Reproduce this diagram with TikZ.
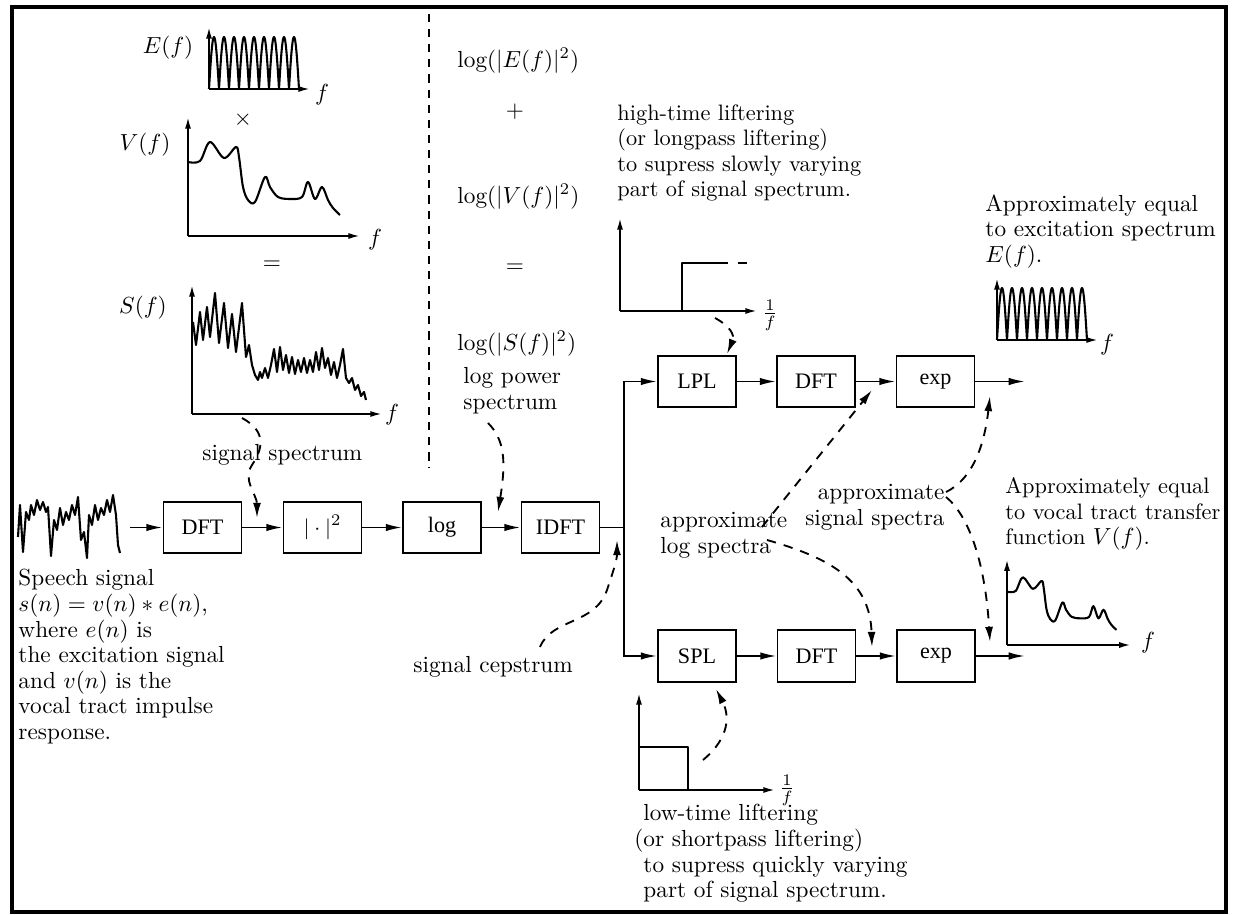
\documentclass[tikz,border=0pt]{standalone}
\usepackage{fontspec}
\newfontfamily\blockfont{Liberation Serif}
\usetikzlibrary{arrows.meta}

\begin{document}
% all coordinates are canvas pixels, y pointing down
\begin{tikzpicture}[x=0.43pt, y=-0.43pt,
  font=\fontsize{10}{11}\selectfont,
  every node/.style={inner sep=0pt},
  flow/.style={line width=0.8pt, -{Latex[length=7pt,width=3.2pt]}},
  wire/.style={line width=0.8pt},
  block/.style={draw, line width=0.8pt, minimum width=33.5pt, minimum height=22pt,
                font=\blockfont\fontsize{9.5}{11}\selectfont},
  hint/.style={line width=0.8pt, dash pattern=on 4pt off 3.5pt,
               -{Latex[length=6.5pt,width=3.4pt]}},
  axis/.style={line width=0.8pt, -{Latex[length=5pt,width=2.6pt]}},
  trace/.style={line width=0.9pt, line join=round},
  note/.style={align=left, anchor=north west},
  ecomb/.pic={
    \draw[trace] plot[domain=0:90, samples=181] (\x, {-52*abs(sin(18*\x))});
    \draw[axis] (0,0) -- (0,-62);
    \draw[axis] (0,0) -- (101,0);
  },
  vtract/.pic={
    \draw[trace] plot[smooth, tension=0.55] coordinates {
      (0,-74) (12,-75) (22,-94) (36,-78) (48,-89) (51,-79) (55,-49) (60,-36)
      (67,-34) (77,-59) (82,-49) (90,-39) (102,-37) (114,-39) (120,-54)
      (127,-37) (134,-49) (140,-36) (145,-28) (152,-21)};
    \draw[axis] (0,0) -- (0,-119);
    \draw[axis] (0,0) -- (172,0);
  }
]
\useasboundingbox (0,0) rectangle (1242,915);
\draw[line width=2pt] (12,7) rectangle (1226,912);

% divider between spectra and log spectra
\draw[line width=0.8pt, dash pattern=on 3.5pt off 3pt] (429,14) -- (429,468);

% ---------- spectra on the left ----------
\pic at (209,89) {ecomb};
\node (Elab) at (168,48) {$E(f)$};
\node (Ef) at (322,95) {$f$};
\node (times) at (243,120) {$\times$};

\pic at (188,236) {vtract};
\node (Vlab) at (145,145) {$V(f)$};
\node (Vf) at (375,240) {$f$};
\node (eq1) at (272,265) {$=$};

\draw[axis] (192,414) -- (192,285);
\draw[axis] (192,414) -- (382,414);
\draw[trace] (193,322) -- (196,345) -- (200,312) -- (203,340) -- (207,307) -- (210,337)
  -- (215,293) -- (219,343) -- (224,303) -- (228,348) -- (232,314) -- (236,352)
  -- (242,303) -- (246,357) -- (249,345) -- (252,365) -- (255,375) -- (258,380)
  -- (260,372) -- (262,378) -- (265,368) -- (268,378) -- (271,365) -- (274,349)
  -- (277,372) -- (280,347) -- (283,370) -- (286,355) -- (289,373) -- (292,357)
  -- (295,374) -- (298,360) -- (301,372) -- (304,358) -- (307,373) -- (310,360)
  -- (313,372) -- (316,352) -- (319,370) -- (322,348) -- (325,368) -- (328,358)
  -- (331,375) -- (334,362) -- (337,378) -- (340,365) -- (343,349) -- (346,378)
  -- (349,383) -- (352,378) -- (355,390) -- (358,385) -- (361,396) -- (364,392)
  -- (366,400);
\node (Slab) at (143,308) {$S(f)$};
\node (Sf) at (392,415) {$f$};
\node[anchor=mid west] (sigspec) at (202,455) {signal spectrum};

% ---------- log spectra in the middle ----------
\node[anchor=mid west] (logE) at (457,62) {$\log(|E(f)|^2)$};
\node (plus) at (515,112) {$+$};
\node[anchor=mid west] (logV) at (457,198) {$\log(|V(f)|^2)$};
\node (eq2) at (515,268) {$=$};
\node[anchor=mid west] (logS) at (457,345) {$\log(|S(f)|^2)$};
\node[note] (logpow) at (463,367) {log power\\spectrum};

% ---------- speech waveform and description ----------
\draw[trace] (18,537) -- (20,505) -- (23,552) -- (26,512) -- (29,520) -- (31,505)
  -- (34,515) -- (37,500) -- (40,510) -- (43,502) -- (46,512) -- (48,507)
  -- (51,556) -- (54,520) -- (57,530) -- (60,508) -- (63,525) -- (66,512)
  -- (69,520) -- (72,505) -- (75,515) -- (78,497) -- (81,540) -- (84,532)
  -- (87,558) -- (89,515) -- (92,525) -- (95,505) -- (98,520) -- (101,508)
  -- (104,515) -- (107,500) -- (110,512) -- (113,495) -- (116,515) -- (118,545)
  -- (120,553);
\node[note] (speech) at (18,569) {Speech signal\\$s(n)=v(n)*e(n)$,\\where $e(n)$ is\\the excitation signal\\and $v(n)$ is the\\vocal tract impulse\\response.};

% ---------- processing chain ----------
\node[block] (dft1) at (202.5,527.5) {DFT};
\node[block] (mag)  at (322.5,527.5) {$|\cdot|^2$};
\node[block] (log)  at (442,527.5) {log};
\node[block] (idft) at (560.5,527.5) {IDFT};
\node[block] (lpl)  at (697,381.5) {LPL};
\node[block] (dft2) at (816,381.5) {DFT};
\node[block] (exp1) at (935.5,381.5) {exp};
\node[block] (spl)  at (697,656) {SPL};
\node[block] (dft3) at (816.5,656) {DFT};
\node[block] (exp2) at (936,656) {exp};

\coordinate (src) at (130,527.5);
\coordinate (fork) at (624,527.5);
\coordinate (out1) at (1025,381.5);
\coordinate (out2) at (1025,656);

\draw[flow] (src) -- (dft1);
\draw[flow] (dft1) -- (mag);
\draw[flow] (mag) -- (log);
\draw[flow] (log) -- (idft);
\draw[wire] (idft) -- (fork);
\draw[flow] (fork) |- (lpl);
\draw[flow] (fork) |- (spl);
\draw[flow] (lpl) -- (dft2);
\draw[flow] (dft2) -- (exp1);
\draw[flow] (exp1) -- (out1);
\draw[flow] (spl) -- (dft3);
\draw[flow] (dft3) -- (exp2);
\draw[flow] (exp2) -- (out2);

\node[anchor=mid west] (cep) at (413,667) {signal cepstrum};

% ---------- high-time lifter ----------
\node[note, font=\fontsize{9.6}{11}\selectfont] (hightxt) at (617,104) {high-time liftering\\(or longpass liftering)\\to supress slowly varying\\part of signal spectrum.};
\draw[axis] (620,311) -- (620,218);
\draw[axis] (620,311) -- (757,311);
\draw[trace] (682,311) -- (682,263) -- (728,263);
\draw[trace] (738,263) -- (747,263);
\node (hinv) at (770,315) {$\frac{1}{f}$};

% ---------- low-time lifter ----------
\draw[axis] (639,790) -- (639,693);
\draw[axis] (639,790) -- (775,790);
\draw[trace] (639,747) -- (688,747) -- (688,790);
\node (linv) at (787,790) {$\frac{1}{f}$};
\node[note] (lowtxt) at (643,804) {low-time liftering\\\llap{(}or shortpass liftering)\\to supress quickly varying\\part of signal spectrum.};

% ---------- outputs ----------
\node[note] (Etxt) at (985,194) {Approximately equal\\to excitation spectrum\\$E(f)$.};
\pic at (997,340) {ecomb};
\node (Eof) at (1107,345) {$f$};

\node[note, font=\fontsize{9.6}{11}\selectfont] (Vtxt) at (1005,477) {Approximately equal\\to vocal tract transfer\\function $V(f)$.};
\pic[scale=0.72] at (1007,645) {vtract};
\node (Vof) at (1148,643) {$f$};

% ---------- approximation labels ----------
\node[note] (aplog) at (660,512) {approximate\\log spectra};
\node[align=right, anchor=north east] (apsig) at (945,484) {approximate\\signal spectra};

% ---------- dashed pointers ----------
\coordinate (ssA) at (242,418);  \coordinate (ssB) at (257,518);
\coordinate (lpA) at (488,423);  \coordinate (lpB) at (498,512);
\coordinate (scA) at (540,647);  \coordinate (scB) at (617,540);
\coordinate (hlA) at (715,318);  \coordinate (hlB) at (727,354);
\coordinate (llA) at (703,760);  \coordinate (llB) at (716,689);
\coordinate (alA) at (762,527);  \coordinate (alB) at (872,390);
\coordinate (alC) at (767,540);  \coordinate (alD) at (872,647);
\coordinate (asA) at (946,492);  \coordinate (asB) at (990,396);
\coordinate (asC) at (946,497);  \coordinate (asD) at (990,642);

\draw[hint] (ssA) .. controls (268,432) and (262,450) .. (252,465)
                  .. controls (242,480) and (257,495) .. (ssB);
\draw[hint] (lpA) .. controls (505,440) and (506,462) .. (lpB);
\draw[hint] (scA) .. controls (552,618) and (595,625) .. (607,590)
                  .. controls (613,572) and (617,560) .. (scB);
\draw[hint] (hlA) .. controls (730,326) and (735,335) .. (hlB);
\draw[hint] (llA) .. controls (725,742) and (732,720) .. (llB);
\draw[hint] (alA) -- (alB);
\draw[hint] (alC) .. controls (830,558) and (870,580) .. (alD);
\draw[hint] (asA) .. controls (975,478) and (985,440) .. (asB);
\draw[hint] (asC) .. controls (968,515) and (985,560) .. (asD);
\end{tikzpicture}
\end{document}
